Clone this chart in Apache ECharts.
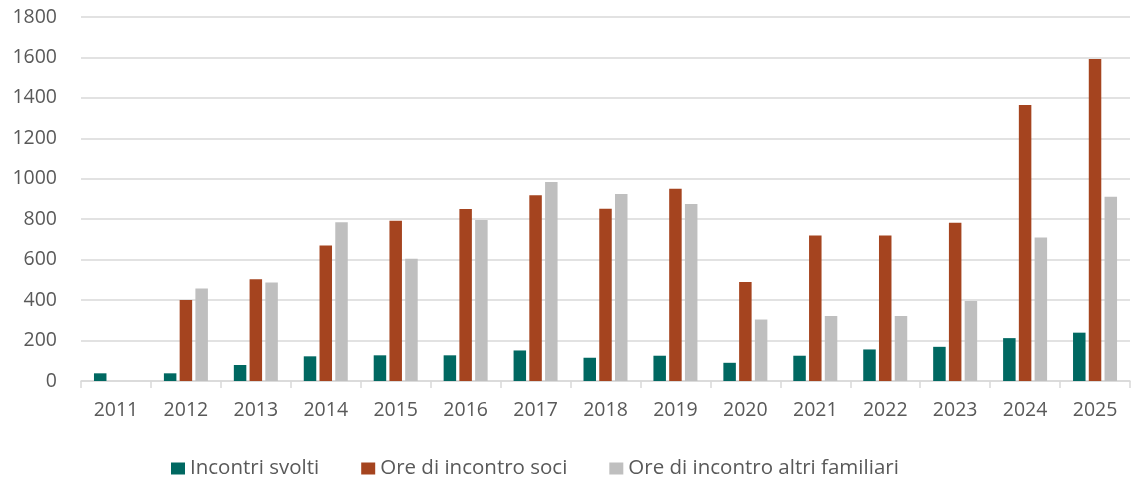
<!DOCTYPE html>
<html>
<head>
<meta charset="utf-8">
<script src="https://cdn.jsdelivr.net/npm/echarts@6/dist/echarts.min.js"></script>
<style>
  html, body { margin: 0; padding: 0; background: #fff; }
  #chart { width: 1136px; height: 479px; }
</style>
</head>
<body>
<div id="chart"></div>
<script>
// dati
const anni = ['2011', '2012', '2013', '2014', '2015', '2016', '2017', '2018', '2019', '2020', '2021', '2022', '2023', '2024', '2025']
const incontriSvolti = [38, 38, 79, 122, 127, 127, 151, 115, 125, 90, 125, 156, 169, 212, 239]
const oreSoci = [null, 401, 503, 670, 793, 850, 918, 852, 951, 489, 720, 720, 783, 1365, 1592]
const oreAltriFamiliari = [null, 457, 487, 785, 604, 796, 984, 925, 875, 304, 322, 322, 395, 709, 911]

const font = '"Open Sans", "Liberation Sans", sans-serif'
const grigioTesto = '#595959'
const grigioLinee = '#d9d9d9'

const chart = echarts.init(document.getElementById('chart'))

// stile comune delle barre
const barra = (name, data, color) => ({
  name,
  type: 'bar',
  data,
  barWidth: 12.5,
  barGap: '26%',
  itemStyle: { color }
})

chart.setOption({
  animation: false,
  textStyle: { fontFamily: font },
  grid: { left: 81, right: 6, top: 17, bottom: 98, containLabel: false },
  legend: {
    top: 453,
    left: 166,
    itemWidth: 14,
    itemHeight: 12,
    itemGap: 42,
    icon: 'rect',
    textStyle: { fontFamily: font, fontSize: 20.5, color: grigioTesto },
    data: ['Incontri svolti', 'Ore di incontro soci', 'Ore di incontro altri familiari']
  },
  xAxis: {
    type: 'category',
    data: anni,
    axisLine: { lineStyle: { color: grigioLinee, width: 1.5 } },
    axisTick: { show: true, length: 7, lineStyle: { color: grigioLinee, width: 1.5 } },
    axisLabel: { fontFamily: font, fontSize: 19.5, color: grigioTesto, margin: 19 }
  },
  yAxis: {
    type: 'value',
    min: 0,
    max: 1800,
    interval: 200,
    axisLine: { show: false },
    axisTick: { show: false },
    splitLine: { lineStyle: { color: grigioLinee, width: 1.5 } },
    axisLabel: { fontFamily: font, fontSize: 19.5, color: grigioTesto, margin: 24, formatter: v => String(v) }
  },
  series: [
    barra('Incontri svolti', incontriSvolti, '#006861'),
    barra('Ore di incontro soci', oreSoci, '#a5441f'),
    barra('Ore di incontro altri familiari', oreAltriFamiliari, '#bfbfbf')
  ]
})

window.addEventListener('resize', () => chart.resize())
</script>
</body>
</html>
